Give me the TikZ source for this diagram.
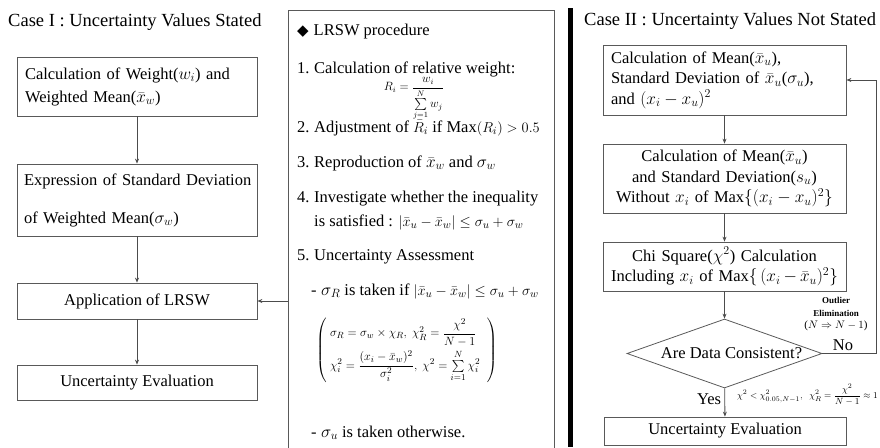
\documentclass[tikz,border=0pt]{standalone}
\usepackage{fontspec}
\setmainfont{Liberation Serif}
\newfontfamily\dejavu{DejaVu Sans}
\usepackage{amsmath}
\usetikzlibrary{shapes.geometric,arrows.meta}
\newcommand\setfs[2]{\fontsize{#1}{#2}\selectfont}
\begin{document}
\begin{tikzpicture}[x=1pt,y=-1pt,
  bx/.style={draw=black!65, line width=0.8pt, inner xsep=8pt, inner ysep=0pt},
  dia/.style={draw=black!65, line width=0.8pt, diamond, inner sep=0pt, minimum width=195pt, minimum height=69pt},
  arr/.style={draw=black!70, line width=0.8pt, -{Stealth[length=5pt,width=4pt]}},
  lt/.style={font=\setfs{16.5}{23}},
  rt/.style={font=\setfs{16.5}{20.5}},
  mt/.style={font=\setfs{16.5}{20}, anchor=base west, inner sep=0pt},
  ttl/.style={font=\setfs{18.5}{20}, anchor=base west, inner sep=0pt}]
\useasboundingbox (0,0) rectangle (880,447);

% ---------- Case I ----------
\node[ttl] (t1) at (8,27) {Case I : Uncertainty Values Stated};

\node[bx, lt, minimum width=240pt, minimum height=59pt, text width=224pt, align=left] (L1) at (137,86.5)
  {\mbox{Calculation of Weight($w_i$) and}\\\mbox{Weighted Mean($\bar{x}_w$)}};
\node[bx, font=\setfs{16.5}{38}, inner xsep=7pt, minimum width=240pt, minimum height=72pt, text width=226pt, align=left] (L2) at (137,200)
  {\mbox{Expression of Standard Deviation}\\\mbox{of Weighted Mean($\sigma_w$)}};
\node[bx, lt, minimum width=240pt, minimum height=36pt] (L3) at (137,301) {Application of LRSW};
\node[bx, lt, minimum width=240pt, minimum height=35pt] (L4) at (137,382.5) {Uncertainty Evaluation};

\draw[arr] (L1) -- (L2);
\draw[arr] (L2) -- (L3);
\draw[arr] (L3) -- (L4);

% ---------- LRSW procedure ----------
\node[draw=black!65, line width=0.8pt, minimum width=266pt, minimum height=440pt, inner sep=0pt] (proc) at (421,230) {};

\node[mt] (m0) at (297,35) {{\dejavu\setfs{15}{15}◆}\hspace{5pt}LRSW procedure};
\node[mt] (m1) at (297,73) {\makebox[17pt][l]{1.}Calculation of relative weight:};
\node[font=\setfs{12}{14}, inner sep=0pt] (rf) at (414,99) {$R_i = \dfrac{w_i}{\sum\limits_{j=1}^{N} w_j}$};
\node[mt] (m2) at (297,132) {\makebox[17pt][l]{2.}Adjustment of {\setfs{15.5}{18}$\bar{R}_i$} if Max{\setfs{15.5}{18}$(R_i) > 0.5$}};
\node[mt] (m3) at (297,167) {\makebox[17pt][l]{3.}Reproduction of $\bar{x}_w$ and $\sigma_w$};
\node[mt] (m4) at (297,202) {\makebox[17pt][l]{4.}Investigate whether the inequality};
\node[mt] (m4b) at (314,226) {is satisfied : {\setfs{15.5}{17}$\left|\bar{x}_u - \bar{x}_w\right| \le \sigma_u + \sigma_w$}};
\node[mt] (m5) at (297,260) {\makebox[17pt][l]{5.}Uncertainty Assessment};
\node[mt] (m6) at (311,295) {\makebox[10pt][l]{-}$\sigma_R$ is taken if {\setfs{15}{17}$\left|\bar{x}_u - \bar{x}_w\right| \le \sigma_u + \sigma_w$}};
\node[anchor=west, inner sep=0pt, font=\setfs{12.5}{15}] (mat) at (316,350)
  {$\left(\begin{array}{@{\;}l@{\;\;}}
     \sigma_R = \sigma_w \times \chi_R,\ \chi_R^2 = \dfrac{\chi^2}{N-1}\\[9pt]
     \chi_i^2 = \dfrac{(x_i - \bar{x}_w)^2}{\sigma_i^2},\ \chi^2 = \sum\limits_{i=1}^{N} \chi_i^2
   \end{array}\right)$};
\node[mt] (m7) at (311,437) {\makebox[10pt][l]{-}$\sigma_u$ is taken otherwise.};

\draw[arr] (proc.west |- L3.east) -- (L3.east);

% ---------- separator ----------
\draw[line width=5pt, black] (570.5,8) -- (570.5,447);

% ---------- Case II ----------
\node[ttl] (t2) at (584,25) {Case II : Uncertainty Values Not Stated};

\node[bx, rt, minimum width=243pt, minimum height=70pt, text width=227pt, align=left] (A) at (724.5,80)
  {Calculation of Mean($\bar{x}_u$),\\Standard Deviation of $\bar{x}_u$($\sigma_u$),\\and $(x_i - x_u)^2$};
\node[bx, rt, minimum width=243pt, minimum height=69pt, text width=227pt, align=center] (B) at (724.5,178.5)
  {Calculation of Mean($\bar{x}_u$)\\and Standard Deviation($s_u$)\\Without $x_i$ of Max$\{(x_i - x_u)^2\}$};
\node[bx, rt, minimum width=243pt, minimum height=49pt, text width=227pt, align=center] (C) at (724.5,266.5)
  {Chi Square($\chi^2$) Calculation\\Including $x_i$ of Max$\{\,(x_i - \bar{x}_u)^2\}$};
\node[dia] (D) at (724.5,353.5) {};
\node[rt, inner sep=0pt] (Dt) at ([xshift=7pt]D.center) {Are Data Consistent?};
\node[bx, rt, minimum width=242pt, minimum height=28pt] (E) at (725,431) {Uncertainty Evaluation};

\draw[arr] (A) -- (B);
\draw[arr] (B) -- (C);
\draw[arr] (C) -- (D);
\draw[arr] (D) -- (E);

\coordinate (fb) at (876,200);
\draw[arr] (D.east) -| (fb) |- (A.east);

\node[font=\setfs{9}{12.5}, align=center, inner sep=0pt] (ol) at (836,314.5)
  {\textbf{Outlier}\\\textbf{Elimination}\\{\setfs{11}{12.5}($N \Rightarrow N-1$)}};
\node[font=\setfs{16.5}{18}, inner sep=0pt] (no) at (843,345) {No};
\node[font=\setfs{16.5}{18}, inner sep=0pt] (yes) at (709,399) {Yes};
\node[anchor=west, inner sep=0pt, font=\setfs{9.5}{12}] (cond) at (737,395)
  {$\chi^2 < \chi^2_{0.05,N-1},\;\; \chi^2_R = \dfrac{\chi^2}{N-1} \approx 1$};
\end{tikzpicture}
\end{document}
